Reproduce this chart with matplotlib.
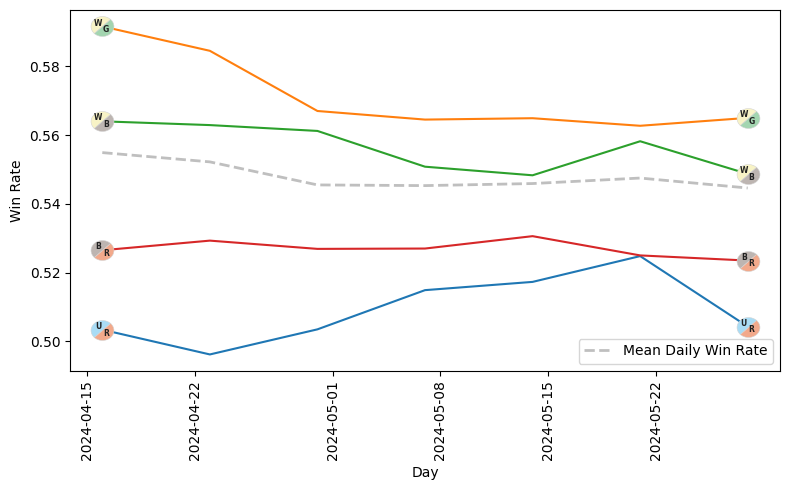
import matplotlib
matplotlib.use('Agg')
import matplotlib.pyplot as plt
import pandas as pd
from matplotlib.path import Path
from matplotlib.transforms import Affine2D

# weekly win rates
days = pd.to_datetime(['2024-04-16', '2024-04-23', '2024-04-30', '2024-05-07',
                       '2024-05-14', '2024-05-21', '2024-05-28'])
ur = [0.5034, 0.4962, 0.5035, 0.5149, 0.5173, 0.5248, 0.5043]
wg = [0.5916, 0.5845, 0.5670, 0.5645, 0.5649, 0.5627, 0.5650]
wb = [0.5640, 0.5629, 0.5612, 0.5508, 0.5483, 0.5582, 0.5487]
br = [0.5265, 0.5293, 0.5269, 0.5270, 0.5306, 0.5250, 0.5235]
mean_rate = [0.5549, 0.5522, 0.5455, 0.5453, 0.5459, 0.5475, 0.5446]

series = [('UR', ur), ('WG', wg), ('WB', wb), ('BR', br)]

mana_colors = {'W': '#f8f3c6', 'U': '#a9dcf5', 'B': '#bdb5b1', 'R': '#f2a98b', 'G': '#a3d5b0'}

# split circle: first colour upper left, second lower right
stretch = Affine2D().scale(1.15, 1.0)
upper_half = Path.wedge(45, 225).transformed(stretch)
lower_half = Path.wedge(225, 405).transformed(stretch)

fig, ax = plt.subplots(figsize=(7.9, 4.9), dpi=100)

for name, values in series:
    ax.plot(days, values)

ax.plot(days, mean_rate, color='gray', alpha=0.5, linestyle='--', linewidth=2,
        label='Mean Daily Win Rate')


def draw_badge(x, y, name):
    ax.plot([x], [y], marker=upper_half, markersize=16.5, linestyle='none',
            markerfacecolor=mana_colors[name[0]], markeredgecolor='#d4d4d4',
            markeredgewidth=0.4, zorder=4)
    ax.plot([x], [y], marker=lower_half, markersize=16.5, linestyle='none',
            markerfacecolor=mana_colors[name[1]], markeredgecolor='#d4d4d4',
            markeredgewidth=0.4, zorder=4)
    ax.annotate(name[0], (x, y), xytext=(-2.8, 2.4), textcoords='offset points', ha='center',
                va='center', fontsize=5.5, fontweight='bold', color='#222222', zorder=5)
    ax.annotate(name[1], (x, y), xytext=(2.6, -2.4), textcoords='offset points', ha='center',
                va='center', fontsize=5.5, fontweight='bold', color='#222222', zorder=5)


# badges at both ends of each line
for name, values in series:
    draw_badge(days[0], values[0], name)
    draw_badge(days[-1], values[-1], name)

ax.set_xlabel('Day')
ax.set_ylabel('Win Rate')
ax.tick_params(axis='x', rotation=90)
ax.legend(loc='lower right')

plt.tight_layout(pad=0.72)
plt.savefig('out.png', dpi=100)
